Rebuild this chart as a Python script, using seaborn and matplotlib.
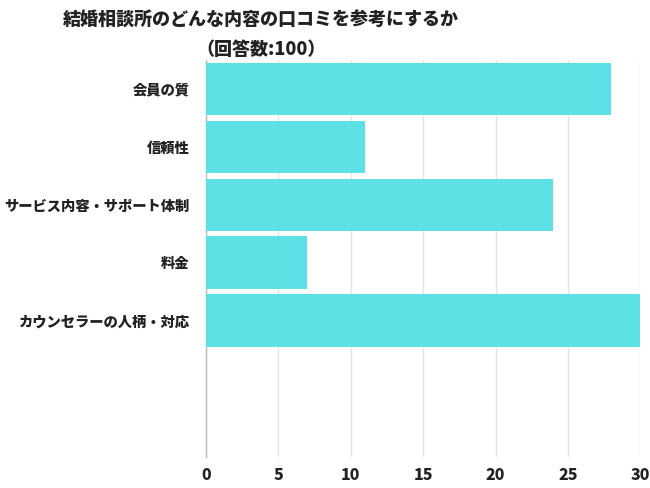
import pandas as pd
import matplotlib
matplotlib.use("Agg")
import matplotlib.pyplot as plt
import seaborn as sns

# データ
categories = ["会員の質", "信頼性", "サービス内容・サポート体制", "料金", "カウンセラーの人柄・対応"]
counts = [28, 11, 24, 7, 30]
x_ticks = [0, 5, 10, 15, 20, 25, 30]

df = pd.DataFrame({"item": categories, "count": counts})

sns.set_style("white")
plt.rcParams['font.family'] = ['Noto Sans CJK JP', 'DejaVu Sans']

fig = plt.figure(figsize=(6.5, 4.88), dpi=100)
ax = fig.add_axes([0.317, 0.0635, 0.668, 0.8135])

sns.barplot(data=df, x="count", y="item", color="#5ee1e5", saturation=1,
            width=0.91, linewidth=0, ax=ax, zorder=3)

ax.set_xlim(0, 30)
ax.set_ylim(6.35, -0.5)
ax.set_xticks(x_ticks)
ax.set_xticklabels([str(t) for t in x_ticks], fontsize=11.5, fontweight='heavy', color='#222222')
ax.tick_params(axis='x', length=0, pad=8)
ax.tick_params(axis='y', length=0, pad=12)
for lab in ax.get_yticklabels():
    lab.set_fontsize(10.3)
    lab.set_fontweight('heavy')
    lab.set_color('#222222')

ax.grid(axis='x', color='#e3e3e3', linewidth=1, zorder=0)
for s in ['top', 'right', 'bottom']:
    ax.spines[s].set_visible(False)
ax.spines['left'].set_color('#bbbbbb')
ax.spines['left'].set_linewidth(1)
ax.set_xlabel("")
ax.set_ylabel("")

fig.text(0.402, 0.958, "結婚相談所のどんな内容の口コミを参考にするか", ha='center', va='center',
         fontsize=13, fontweight='heavy', color='#222222')
fig.text(0.402, 0.898, "（回答数:100）", ha='center', va='center',
         fontsize=13, fontweight='heavy', color='#222222')

fig.savefig("out.png", dpi=100)
